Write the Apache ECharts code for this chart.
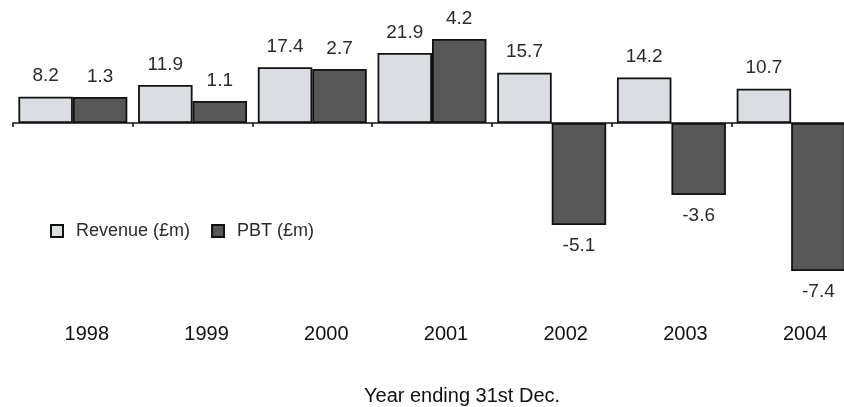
<!DOCTYPE html>
<html>
<head>
<meta charset="utf-8">
<style>
  html, body { margin: 0; padding: 0; background: #ffffff; }
  #chart { width: 844px; height: 407px; }
</style>
<script src="https://cdn.jsdelivr.net/npm/echarts@6/dist/echarts.min.js"></script>
</head>
<body>
<div id="chart"></div>
<script>
// Financial years (year ending 31st Dec.)
const years = ['1998', '1999', '2000', '2001', '2002', '2003', '2004'];
// Revenue, £m
const revenue = [8.2, 11.9, 17.4, 21.9, 15.7, 14.2, 10.7];
// Profit before tax, £m
const pbt = [1.3, 1.1, 2.7, 4.2, -5.1, -3.6, -7.4];

const FONT = '"Liberation Sans", Arial, Helvetica, sans-serif';

// Put value labels above positive bars and below negative ones
function withLabels(values) {
  return values.map(v => ({
    value: v,
    label: { position: v < 0 ? 'bottom' : 'top' }
  }));
}

const valueLabel = {
  show: true,
  distance: 11,
  fontFamily: FONT,
  fontSize: 19,
  color: '#2a2a2a',
  formatter: p => p.value.toFixed(1)
};

const chart = echarts.init(document.getElementById('chart'), null, { renderer: 'canvas' });

chart.setOption({
  backgroundColor: '#ffffff',
  animation: false,
  title: {
    text: 'Year ending 31st Dec.',
    left: 364,
    top: 386,
    padding: 0,
    textStyle: { fontFamily: FONT, fontSize: 20, fontWeight: 'normal', color: '#111' }
  },
  legend: {
    left: 50,
    top: 222,
    padding: 0,
    itemWidth: 12,
    itemHeight: 12,
    itemGap: 21,
    icon: 'rect',
    textStyle: { fontFamily: FONT, fontSize: 18, color: '#2a2a2a', padding: [0, 0, 0, 8] },
    data: ['Revenue (£m)', 'PBT (£m)']
  },
  grid: {
    left: 13, top: 23, width: 838, height: 250,
    containLabel: false,
    outerBoundsMode: 'none'
  },
  xAxis: [
    {
      // baseline through zero with boundary ticks
      type: 'category',
      data: years,
      axisLine: { show: true, onZero: true, lineStyle: { color: '#111', width: 1.5 } },
      axisTick: { show: true, length: 4, lineStyle: { color: '#111', width: 1.5 } },
      axisLabel: { show: false },
      splitLine: { show: false }
    },
    {
      // year labels along the foot of the plot
      type: 'category',
      data: years,
      position: 'bottom',
      axisLine: { show: false, onZero: false },
      axisTick: { show: false },
      axisLabel: {
        show: true,
        margin: 51,
        fontFamily: FONT,
        fontSize: 20,
        lineHeight: 20,
        color: '#111',
        padding: [0, 0, 0, 28]
      },
      splitLine: { show: false }
    }
  ],
  yAxis: [
    { type: 'value', min: -46.875, max: 31.25, show: false, splitLine: { show: false } },
    { type: 'value', min: -7.5, max: 5, show: false, splitLine: { show: false } }
  ],
  series: [
    {
      name: 'Revenue (£m)',
      type: 'bar',
      xAxisIndex: 0,
      yAxisIndex: 0,
      barGap: '0%',
      barCategoryGap: '9%',
      itemStyle: { color: '#dadde1', borderColor: '#111', borderWidth: 1.8 },
      label: valueLabel,
      data: withLabels(revenue)
    },
    {
      name: 'PBT (£m)',
      type: 'bar',
      xAxisIndex: 0,
      yAxisIndex: 1,
      barGap: '0%',
      barCategoryGap: '9%',
      itemStyle: { color: '#575757', borderColor: '#111', borderWidth: 1.8 },
      label: valueLabel,
      data: withLabels(pbt)
    }
  ]
});
</script>
</body>
</html>
